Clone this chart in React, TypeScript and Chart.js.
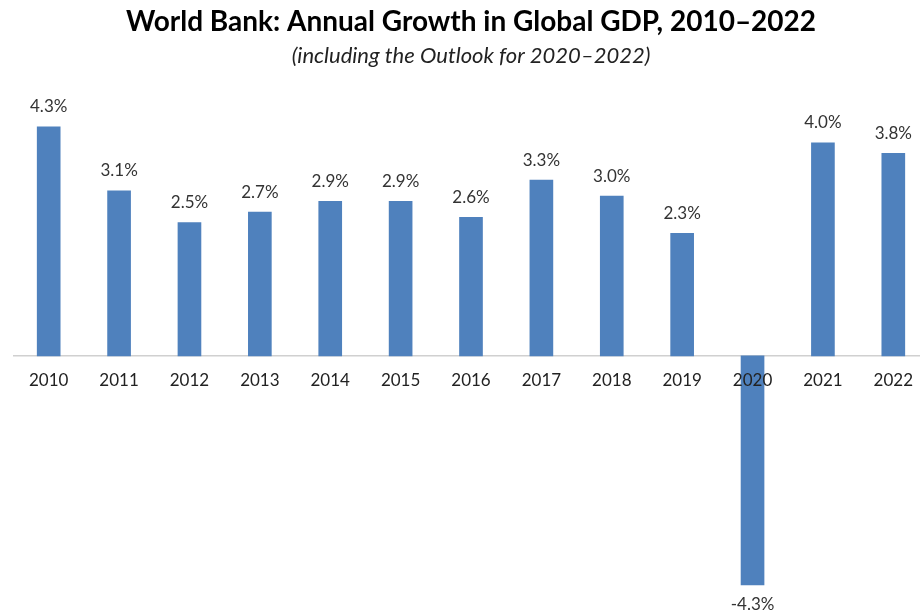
import React, { useEffect, useRef } from "react";
import { Chart, registerables } from "chart.js";

Chart.register(...registerables);

const years = ["2010", "2011", "2012", "2013", "2014", "2015", "2016", "2017", "2018", "2019", "2020", "2021", "2022"];
const growth = [4.3, 3.1, 2.5, 2.7, 2.9, 2.9, 2.6, 3.3, 3.0, 2.3, -4.3, 4.0, 3.8];
const titleText = "World Bank: Annual Growth in Global GDP, 2010\u20132022";
const subtitleText = "(including the Outlook for 2020\u20132022)";

const FONT = "Lato, 'Open Sans', sans-serif";

const valueLabels = {
  id: "valueLabels",
  afterDatasetsDraw(chart: any) {
    const ctx = chart.ctx;
    const meta = chart.getDatasetMeta(0);
    ctx.save();
    ctx.font = `17px ${FONT}`;
    ctx.fillStyle = "#333333";
    ctx.textAlign = "center";
    ctx.textBaseline = "middle";
    meta.data.forEach((bar: any, i: number) => {
      const v = growth[i];
      const y = v >= 0 ? bar.y - 20 : bar.y + 19;
      ctx.fillText(v.toFixed(1) + "%", bar.x, y);
    });
    ctx.restore();
  },
};

export default function App() {
  const ref = useRef<HTMLCanvasElement | null>(null);
  useEffect(() => {
    if (!ref.current) return;
    const chart = new Chart(ref.current, {
      type: "bar",
      data: {
        labels: years,
        datasets: [
          {
            data: growth,
            backgroundColor: "#4F81BD",
            barThickness: 23,
          },
        ],
      },
      options: {
        responsive: false,
        animation: false,
        layout: { padding: { left: 13.5, right: 1.5, top: 0, bottom: 12 } },
        plugins: {
          legend: { display: false },
          tooltip: { enabled: false },
          title: {
            display: true,
            text: titleText,
            color: "#000000",
            font: { family: FONT, size: 28, weight: "bold", lineHeight: 1.2 },
            padding: { top: 5, bottom: 0 },
          },
          subtitle: {
            display: true,
            text: subtitleText,
            color: "#222222",
            font: { family: FONT, size: 22, style: "italic", lineHeight: 1.2 },
            padding: { top: 4, bottom: 20.5 },
          },
        },
        scales: {
          x: {
            position: { y: 0 } as any,
            grid: { display: false, drawTicks: false },
            border: { display: true, color: "#d0d0d0", width: 1.5 },
            ticks: { z: 1, color: "#222222", font: { family: FONT, size: 17 }, padding: 14, maxRotation: 0 },
          },
          y: {
            display: false,
            min: -4.6,
            max: 5,
          },
        },
      },
      plugins: [valueLabels],
    });
    return () => chart.destroy();
  }, []);
  return (
    <div style={{ position: "absolute", left: 0, top: 0, width: 920, height: 613, overflow: "hidden", background: "#fff" }}>
      <canvas ref={ref} width={930} height={613} style={{ width: 930, height: 613, display: "block" }} />
    </div>
  );
}
